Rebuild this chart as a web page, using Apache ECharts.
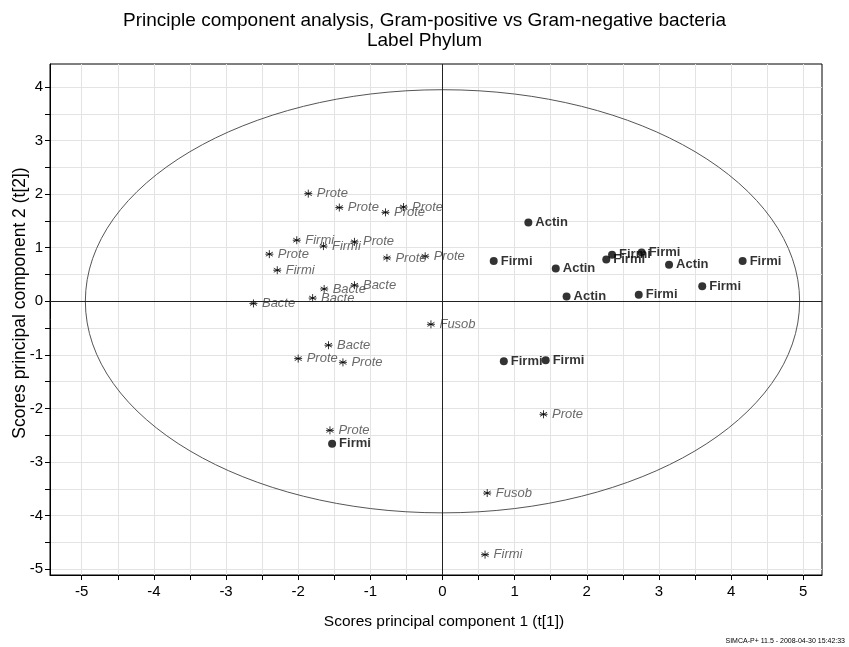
<!DOCTYPE html>
<html>
<head>
<meta charset="utf-8">
<script src="https://cdn.jsdelivr.net/npm/echarts@6/dist/echarts.min.js"></script>
<style>
  html, body { margin: 0; padding: 0; background: #fff; }
  #main { width: 849px; height: 647px; }
</style>
</head>
<body>
<div id="main"></div>
<script>
// Gram-negative (asterisk, italic labels)
var negX = [-1.86, -1.43, -0.79, -0.54, -2.02, -1.65, -1.22, -2.40, -0.77, -0.24, -2.29,
            -1.64, -1.22, -1.80, -2.62, -0.16, -1.58, -2.00, -1.38, -1.56, 1.40, 0.62, 0.59];
var negY = [2.01, 1.75, 1.66, 1.76, 1.14, 1.03, 1.11, 0.88, 0.81, 0.84, 0.58,
            0.23, 0.30, 0.06, -0.04, -0.43, -0.82, -1.07, -1.14, -2.41, -2.11, -3.58, -4.73];
var negLabel = ['Prote', 'Prote', 'Prote', 'Prote', 'Firmi', 'Firmi', 'Prote', 'Prote', 'Prote', 'Prote', 'Firmi',
                'Bacte', 'Bacte', 'Bacte', 'Bacte', 'Fusob', 'Bacte', 'Prote', 'Prote', 'Prote', 'Prote', 'Fusob', 'Firmi'];

// Gram-positive (filled dots, bold labels)
var posX = [1.19, 0.71, 1.57, 1.72, 2.27, 2.35, 2.76, 3.14, 2.72, 3.60, 4.16, 0.85, 1.43, -1.53];
var posY = [1.47, 0.75, 0.61, 0.09, 0.78, 0.87, 0.91, 0.68, 0.12, 0.28, 0.75, -1.12, -1.10, -2.66];
var posLabel = ['Actin', 'Firmi', 'Actin', 'Actin', 'Firmi', 'Firmi', 'Firmi', 'Actin', 'Firmi', 'Firmi', 'Firmi',
                'Firmi', 'Firmi', 'Firmi'];

var xTickValues = [-5, -4.5, -4, -3.5, -3, -2.5, -2, -1.5, -1, -0.5, 0, 0.5, 1, 1.5, 2, 2.5, 3, 3.5, 4, 4.5, 5];
var xLabelValues = [-5, -4, -3, -2, -1, 0, 1, 2, 3, 4, 5];
var yTickValues = [-5, -4.5, -4, -3.5, -3, -2.5, -2, -1.5, -1, -0.5, 0, 0.5, 1, 1.5, 2, 2.5, 3, 3.5, 4];
var yLabelValues = [-5, -4, -3, -2, -1, 0, 1, 2, 3, 4];

// T2 ellipse semi-axes
var ellipseRx = 4.95;
var ellipseRy = 3.95;

var font = '"Liberation Sans", Arial, sans-serif';

function pairs(xs, ys, names) {
    var out = [];
    for (var i = 0; i < xs.length; i++) {
        out.push({ value: [xs[i], ys[i]], name: names[i] });
    }
    return out;
}

var chart = echarts.init(document.getElementById('main'));

var option = {
    animation: false,
    backgroundColor: '#fff',
    title: {
        text: 'Principle component analysis, Gram-positive vs Gram-negative bacteria\nLabel Phylum',
        left: 'center',
        top: 6,
        textStyle: {
            fontFamily: font,
            fontSize: 19,
            fontWeight: 'normal',
            color: '#000',
            lineHeight: 20
        }
    },
    grid: {
        left: 50,
        top: 64,
        width: 772,
        height: 511,
        show: true,
        borderColor: '#000',
        borderWidth: 1,
        backgroundColor: '#fff'
    },
    xAxis: {
        type: 'value',
        min: -5.44,
        max: 5.26,
        axisLine: { show: true, onZero: false, lineStyle: { color: '#000' } },
        axisTick: { show: true, customValues: xTickValues, length: 5, lineStyle: { color: '#000' } },
        axisLabel: {
            customValues: xLabelValues,
            fontFamily: font,
            fontSize: 15,
            color: '#000',
            margin: 9
        },
        splitLine: { show: true, lineStyle: { color: '#e3e3e3', width: 1 } }
    },
    yAxis: {
        type: 'value',
        min: -5.11,
        max: 4.43,
        axisLine: { show: true, onZero: false, lineStyle: { color: '#000' } },
        axisTick: { show: true, customValues: yTickValues, length: 5, lineStyle: { color: '#000' } },
        axisLabel: {
            customValues: yLabelValues,
            fontFamily: font,
            fontSize: 15,
            color: '#000',
            margin: 7
        },
        splitLine: { show: true, lineStyle: { color: '#e3e3e3', width: 1 } }
    },
    series: [
        {
            name: 'Gram-negative',
            type: 'scatter',
            symbol: 'path://M5,0L5,10M0.67,2.5L9.33,7.5M0.67,7.5L9.33,2.5M0,5L10,5',
            symbolSize: 8,
            itemStyle: { color: 'none', borderColor: '#000', borderWidth: 1 },
            label: {
                show: true,
                position: 'right',
                distance: 2,
                formatter: '{b}',
                fontFamily: font,
                fontSize: 13,
                fontStyle: 'italic',
                color: '#444'
            },
            data: pairs(negX, negY, negLabel),
            markLine: {
                silent: true,
                symbol: 'none',
                label: { show: false },
                lineStyle: { color: '#222', width: 1, type: 'solid' },
                data: [{ xAxis: 0 }, { yAxis: 0 }]
            },
            z: 3
        },
        {
            name: 'Gram-positive',
            type: 'scatter',
            symbol: 'circle',
            symbolSize: 8,
            itemStyle: { color: '#000' },
            label: {
                show: true,
                position: 'right',
                distance: 3,
                formatter: '{b}',
                fontFamily: font,
                fontSize: 13,
                fontWeight: 'bold',
                color: '#000'
            },
            data: pairs(posX, posY, posLabel),
            z: 3
        }
    ]
};

chart.setOption(option);

// ellipse and texts placed through the chart's own scales
var c = chart.convertToPixel({ gridIndex: 0 }, [0, 0]);
var ex = chart.convertToPixel({ gridIndex: 0 }, [ellipseRx, ellipseRy]);
chart.setOption({
    graphic: [
        {
            type: 'ellipse',
            shape: { cx: c[0], cy: c[1], rx: ex[0] - c[0], ry: c[1] - ex[1] },
            style: { fill: 'none', stroke: '#555', lineWidth: 1 },
            silent: true,
            z: 2
        },
        {
            type: 'text',
            x: 444,
            y: 622,
            style: {
                text: 'Scores principal component 1 (t[1])',
                font: '15.5px ' + font,
                fill: '#000',
                textAlign: 'center',
                textVerticalAlign: 'middle'
            }
        },
        {
            type: 'text',
            x: 20,
            y: 303,
            rotation: Math.PI / 2,
            style: {
                text: 'Scores principal component 2 (t[2])',
                font: '17.5px ' + font,
                fill: '#000',
                textAlign: 'center',
                textVerticalAlign: 'middle'
            }
        },
        {
            type: 'text',
            x: 845,
            y: 641,
            style: {
                text: 'SIMCA-P+ 11.5 - 2008-04-30 15:42:33',
                font: '7px ' + font,
                fill: '#000',
                textAlign: 'right',
                textVerticalAlign: 'middle'
            }
        }
    ]
});
</script>
</body>
</html>
